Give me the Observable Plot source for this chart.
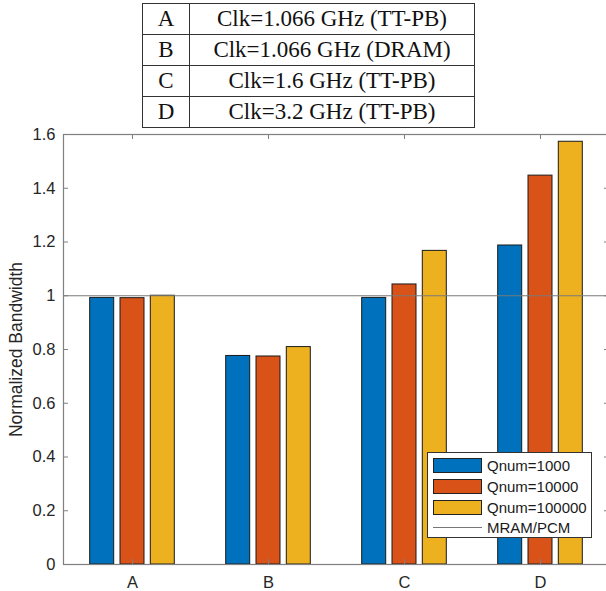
<!DOCTYPE html>
<html>
<head>
<meta charset="utf-8">
<script src="https://cdn.jsdelivr.net/npm/d3@7"></script>
<script src="https://cdn.jsdelivr.net/npm/@observablehq/plot@0.6"></script>
<style>
  html, body { margin: 0; padding: 0; background: #fff; overflow: hidden; }
  #wrap { position: relative; width: 606px; height: 591px; overflow: hidden; }
  table.cfg { position: absolute; left: 142px; top: 3px; border-collapse: collapse;
    font-family: "Liberation Serif", "Times New Roman", serif; font-size: 23px; color: #111; }
  table.cfg td { border: 1px solid #333; height: 30px; padding: 0; text-align: center; line-height: 30px; }
  table.cfg td.k { width: 46px; }
  table.cfg td.v { width: 284px; }
  #chart { position: absolute; left: 0; top: 130px; width: 609px; }
  #chart svg { max-width: none !important; display: block; }
  #chart svg text { font-size: 16.5px; }
  #chart svg g[aria-label="y-axis label"] text { font-size: 17.5px; }
  #legend { position: absolute; left: 427px; top: 452px; width: 165px; height: 86px; background: #fff;
    border: 1px solid #333; box-sizing: border-box; font-family: "Liberation Sans", Arial, sans-serif;
    font-size: 15px; color: #1a1a1a; }
  .item { position: absolute; left: 5px; height: 15px; display: flex; align-items: center; }
  .sw { width: 49px; height: 15px; border: 1px solid #222; box-sizing: border-box; margin-right: 5px; }
  .ln { width: 49px; height: 0; border-top: 1px solid #777; margin-right: 5px; }
</style>
</head>
<body>
<div id="wrap">
  <table class="cfg" id="cfg"></table>
  <div id="chart"></div>
  <div id="legend"></div>
</div>
<script>
// ---- data ----
const categories = ["A", "B", "C", "D"];
const configLabels = ["Clk=1.066 GHz (TT-PB)", "Clk=1.066 GHz (DRAM)", "Clk=1.6 GHz (TT-PB)", "Clk=3.2 GHz (TT-PB)"];
const seriesNames = ["Qnum=1000", "Qnum=10000", "Qnum=100000"];
const q1000 = [0.992, 0.776, 0.992, 1.187];
const q10000 = [0.991, 0.774, 1.042, 1.447];
const q100000 = [1.0, 0.809, 1.167, 1.573];
const seriesColors = ["#0072BD", "#D95319", "#EDB120"];
const yTicks = [0, 0.2, 0.4, 0.6, 0.8, 1, 1.2, 1.4, 1.6];
const refValue = 1;
const refLabel = "MRAM/PCM";
const yLabel = "Normalized Bandwidth";

// ---- table ----
const cfg = document.getElementById("cfg");
categories.forEach((c, i) => {
  const tr = document.createElement("tr");
  tr.innerHTML = `<td class="k">${c}</td><td class="v">${configLabels[i]}</td>`;
  cfg.appendChild(tr);
});

// ---- chart ----
const seriesValues = [q1000, q10000, q100000];
const rows = [];
seriesValues.forEach((vals, s) => categories.forEach((c, i) => rows.push({cat: c, series: seriesNames[s], value: vals[i]})));

const W = 609, H = 461, mL = 63, mR = 0, mT = 4, mB = 27;
const innerW = W - mL - mR, innerH = H - mT - mB;
const band = innerW / categories.length;
const barW = 24.5, barStep = 30.3, tick = 5;

const barMarks = seriesNames.map((name, s) => {
  const off = (s - 1) * barStep;
  const side = (band - barW) / 2;
  return Plot.barY(rows.filter(d => d.series === name), {
    x: "cat", y: "value", fill: "series", stroke: "#1a1a1a", strokeWidth: 1,
    insetLeft: side + off, insetRight: side - off
  });
});

const chart = Plot.plot({
  width: W, height: H,
  marginLeft: mL, marginRight: mR, marginTop: mT, marginBottom: mB,
  style: {fontFamily: "'Liberation Sans', Arial, sans-serif", fontSize: "16px", color: "#262626", background: "transparent", overflow: "visible"},
  x: {domain: categories, padding: 0, axis: null},
  y: {domain: [0, 1.6], axis: null},
  color: {domain: seriesNames, range: seriesColors},
  marks: [
    ...barMarks,
    Plot.ruleY([refValue], {stroke: "#7a7a7a", strokeWidth: 1}),
    Plot.frame({stroke: "#7f7f7f", strokeWidth: 1.2}),
    Plot.ruleY(yTicks, {stroke: "#7f7f7f", insetRight: innerW - tick}),
    Plot.ruleY(yTicks, {stroke: "#7f7f7f", insetLeft: innerW - tick}),
    Plot.ruleX(categories, {stroke: "#7f7f7f", insetTop: innerH - tick}),
    Plot.ruleX(categories, {stroke: "#7f7f7f", insetBottom: innerH - tick}),
    Plot.axisY({ticks: yTicks, tickSize: 0, tickPadding: 8, tickFormat: d => String(d),
      label: yLabel, labelAnchor: "center", labelArrow: "none", labelOffset: 54}),
    Plot.axisX({tickSize: 0, tickPadding: 12, label: null})
  ]
});
document.getElementById("chart").appendChild(chart);

// ---- legend ----
const legend = document.getElementById("legend");
const tops = [5, 26, 47, 67];
seriesNames.forEach((n, i) => {
  const d = document.createElement("div");
  d.className = "item"; d.style.top = tops[i] + "px";
  d.innerHTML = `<span class="sw" style="background:${seriesColors[i]}"></span><span>${n}</span>`;
  legend.appendChild(d);
});
const r = document.createElement("div");
r.className = "item"; r.style.top = tops[3] + "px";
r.innerHTML = `<span class="ln"></span><span>${refLabel}</span>`;
legend.appendChild(r);
</script>
</body>
</html>
